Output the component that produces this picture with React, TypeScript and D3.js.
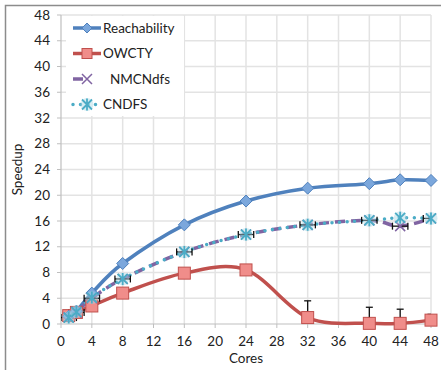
import React, { useEffect, useRef } from 'react';
import * as d3 from 'd3';

const cores = [1, 2, 4, 8, 16, 24, 32, 40, 44, 48];
const reachability = [1.2, 2.0, 4.8, 9.4, 15.4, 19.1, 21.1, 21.8, 22.4, 22.3];
const owcty = [1.3, 1.8, 2.8, 4.8, 7.9, 8.4, 1.0, 0.1, 0.1, 0.6];
const owctyErrUp = [0, 0, 0, 0, 0, 0, 2.6, 2.5, 2.2, 0.9];
const nmcndfs = [1.0, 1.8, 4.0, 7.0, 11.2, 13.9, 15.4, 16.1, 15.2, 16.4];
const nmcXErr = [1, 1, 1, 1, 1, 1, 1, 1, 1, 1];
const cndfs = [1.0, 1.9, 4.1, 7.0, 11.2, 13.9, 15.4, 16.1, 16.5, 16.4];
const xTicks = [0, 4, 8, 12, 16, 20, 24, 28, 32, 36, 40, 44, 48];
const yTicks = [0, 4, 8, 12, 16, 20, 24, 28, 32, 36, 40, 44, 48];
const seriesNames = ['Reachability', 'OWCTY', 'NMCNdfs', 'CNDFS'];

const W = 441;
const H = 370;
const FONT = 'Lato, "Open Sans", sans-serif';

export default function App() {
  const svgRef = useRef<SVGSVGElement>(null);

  useEffect(() => {
    if (!svgRef.current) return;
    const svg = d3.select(svgRef.current);
    svg.selectAll('*').remove();

    const m = { left: 61, right: 10, top: 15, bottom: 46 };
    const x = d3.scaleLinear().domain([0, 48]).range([m.left, W - m.right]);
    const y = d3.scaleLinear().domain([0, 48]).range([H - m.bottom, m.top]);

    // outer chart border
    svg.append('rect')
      .attr('x', 5.5).attr('y', 5.5)
      .attr('width', W).attr('height', H)
      .attr('fill', '#fff').attr('stroke', '#8c8c8c').attr('stroke-width', 1.5);

    svg.append('defs').append('clipPath').attr('id', 'plotclip')
      .append('rect')
      .attr('x', m.left).attr('y', m.top - 10)
      .attr('width', x(48) - m.left).attr('height', y(0) - m.top + 20);

    // gridlines
    const grid = svg.append('g').attr('stroke', '#e3e3e3').attr('stroke-width', 1.5);
    yTicks.filter(t => t > 0).forEach(t => {
      grid.append('line').attr('x1', m.left).attr('x2', x(48)).attr('y1', y(t)).attr('y2', y(t));
    });
    xTicks.filter(t => t > 0).forEach(t => {
      grid.append('line').attr('x1', x(t)).attr('x2', x(t)).attr('y1', y(48)).attr('y2', y(0));
    });

    // axes
    const axisColor = '#bfbfbf';
    svg.append('line').attr('x1', m.left).attr('x2', m.left).attr('y1', y(48)).attr('y2', y(0))
      .attr('stroke', axisColor).attr('stroke-width', 1.2);
    svg.append('line').attr('x1', m.left).attr('x2', x(48)).attr('y1', y(0)).attr('y2', y(0))
      .attr('stroke', axisColor).attr('stroke-width', 1.2);
    yTicks.forEach(t => {
      svg.append('line').attr('x1', m.left - 4).attr('x2', m.left).attr('y1', y(t)).attr('y2', y(t))
        .attr('stroke', axisColor);
      svg.append('text').attr('x', m.left - 11).attr('y', y(t)).attr('dy', '0.35em')
        .attr('text-anchor', 'end').attr('font-family', FONT).attr('font-size', 13.5)
        .attr('fill', '#222').text(t);
    });
    xTicks.forEach(t => {
      svg.append('line').attr('x1', x(t)).attr('x2', x(t)).attr('y1', y(0)).attr('y2', y(0) + 4)
        .attr('stroke', axisColor);
      svg.append('text').attr('x', x(t)).attr('y', y(0) + 22)
        .attr('text-anchor', 'middle').attr('font-family', FONT).attr('font-size', 13.5)
        .attr('fill', '#222').text(t);
    });
    svg.append('text').attr('x', (m.left + x(48)) / 2).attr('y', H - 7)
      .attr('text-anchor', 'middle').attr('font-family', FONT).attr('font-size', 13.5)
      .attr('fill', '#222').text('Cores');
    svg.append('text')
      .attr('transform', `translate(22,${(y(0) + y(48)) / 2}) rotate(-90)`)
      .attr('text-anchor', 'middle').attr('font-family', FONT).attr('font-size', 13.5)
      .attr('fill', '#222').text('Speedup');

    // legend background
    svg.append('rect').attr('x', m.left + 5).attr('y', y(48) + 1)
      .attr('width', 118).attr('height', y(32) - y(48) - 3).attr('fill', '#fff');

    const line = (vals: number[]) => d3.line<number>()
      .x((_, i) => x(cores[i]))
      .y(d => y(d))
      .curve(d3.curveCatmullRom.alpha(0))(vals);

    const blue = '#4f81bd', red = '#c0504d', purple = '#8064a2', cyan = '#4bacc6';

    // markers
    const diamond = (g: any, cx: number, cy: number, s = 6) => {
      g.append('path').attr('d', `M${cx},${cy - s}L${cx + s},${cy}L${cx},${cy + s}L${cx - s},${cy}Z`)
        .attr('fill', '#7ba7dc').attr('stroke', '#4f81bd').attr('stroke-width', 1);
    };
    const square = (g: any, cx: number, cy: number, s = 6) => {
      g.append('rect').attr('x', cx - s).attr('y', cy - s).attr('width', 2 * s).attr('height', 2 * s)
        .attr('fill', '#f08d8a').attr('stroke', '#c0504d').attr('stroke-width', 1);
    };
    const cross = (g: any, cx: number, cy: number, s = 5) => {
      g.append('path').attr('d', `M${cx - s},${cy - s}L${cx + s},${cy + s}M${cx - s},${cy + s}L${cx + s},${cy - s}`)
        .attr('stroke', purple).attr('stroke-width', 1.5).attr('fill', 'none');
    };
    const star = (g: any, cx: number, cy: number, s = 5) => {
      g.append('circle').attr('cx', cx).attr('cy', cy).attr('r', s + 1.5)
        .attr('fill', '#a9d6e5').attr('opacity', 0.45);
      g.append('path')
        .attr('d', `M${cx - s},${cy - s}L${cx + s},${cy + s}M${cx - s},${cy + s}L${cx + s},${cy - s}M${cx},${cy - s - 1}L${cx},${cy + s + 1}`)
        .attr('stroke', cyan).attr('stroke-width', 1.8).attr('fill', 'none');
    };

    const plot = svg.append('g');

    // OWCTY
    plot.append('path').attr('d', line(owcty)).attr('fill', 'none')
      .attr('stroke', red).attr('stroke-width', 3.5);
    // Reachability
    plot.append('path').attr('d', line(reachability)).attr('fill', 'none')
      .attr('stroke', blue).attr('stroke-width', 3.5);
    // NMCNdfs
    plot.append('path').attr('d', line(nmcndfs)).attr('fill', 'none')
      .attr('stroke', purple).attr('stroke-width', 3.5).attr('stroke-dasharray', '10 6');
    // CNDFS
    plot.append('path').attr('d', line(cndfs)).attr('fill', 'none')
      .attr('stroke', cyan).attr('stroke-width', 3.5).attr('stroke-linecap', 'round')
      .attr('stroke-dasharray', '0 7.5');

    const eb = plot.append('g').attr('clip-path', 'url(#plotclip)')
      .attr('stroke', '#111').attr('stroke-width', 1.3).attr('fill', 'none');
    owcty.forEach((v, i) => {
      if (!owctyErrUp[i]) return;
      const cx = x(cores[i]);
      eb.append('line').attr('x1', cx).attr('x2', cx).attr('y1', y(v)).attr('y2', y(v + owctyErrUp[i]));
      eb.append('line').attr('x1', cx - 3.5).attr('x2', cx + 3.5).attr('y1', y(v + owctyErrUp[i])).attr('y2', y(v + owctyErrUp[i]));
    });
    nmcndfs.forEach((v, i) => {
      const cy = y(v);
      const x0 = x(cores[i] - nmcXErr[i]), x1 = x(cores[i] + nmcXErr[i]);
      eb.append('line').attr('x1', x0).attr('x2', x1).attr('y1', cy).attr('y2', cy);
      eb.append('line').attr('x1', x0).attr('x2', x0).attr('y1', cy - 3.5).attr('y2', cy + 3.5);
      eb.append('line').attr('x1', x1).attr('x2', x1).attr('y1', cy - 3.5).attr('y2', cy + 3.5);
    });

    owcty.forEach((v, i) => square(plot, x(cores[i]), y(v)));
    reachability.forEach((v, i) => diamond(plot, x(cores[i]), y(v)));
    nmcndfs.forEach((v, i) => cross(plot, x(cores[i]), y(v)));
    cndfs.forEach((v, i) => star(plot, x(cores[i]), y(v)));

    // legend
    const lg = svg.append('g');
    const lx0 = 73, lx1 = 101;
    seriesNames.forEach((name, i) => {
      const ly = 28 + i * 25.5;
      const mx = (lx0 + lx1) / 2;
      if (i === 0) {
        lg.append('line').attr('x1', lx0).attr('x2', lx1).attr('y1', ly).attr('y2', ly)
          .attr('stroke', blue).attr('stroke-width', 3.5);
        diamond(lg, mx, ly, 5);
      } else if (i === 1) {
        lg.append('line').attr('x1', lx0).attr('x2', lx1).attr('y1', ly).attr('y2', ly)
          .attr('stroke', red).attr('stroke-width', 3.5);
        square(lg, mx, ly, 5);
      } else if (i === 2) {
        lg.append('line').attr('x1', lx0).attr('x2', lx0 + 10).attr('y1', ly).attr('y2', ly)
          .attr('stroke', purple).attr('stroke-width', 3.5);
        cross(lg, mx, ly, 5);
      } else {
        lg.append('line').attr('x1', lx0).attr('x2', lx1 + 1).attr('y1', ly).attr('y2', ly)
          .attr('stroke', cyan).attr('stroke-width', 3.5).attr('stroke-linecap', 'round')
          .attr('stroke-dasharray', '0 7.5');
        star(lg, mx, ly, 5);
      }
      lg.append('text').attr('x', i === 2 ? lx1 + 9 : lx1 + 2).attr('y', ly).attr('dy', '0.35em')
        .attr('font-family', FONT).attr('font-size', 13.5).attr('fill', '#222').text(name);
    });
  }, []);

  return (
    <svg
      ref={svgRef}
      width={W}
      height={H}
      style={{ position: 'absolute', left: 0, top: 0, background: '#fff' }}
    />
  );
}
